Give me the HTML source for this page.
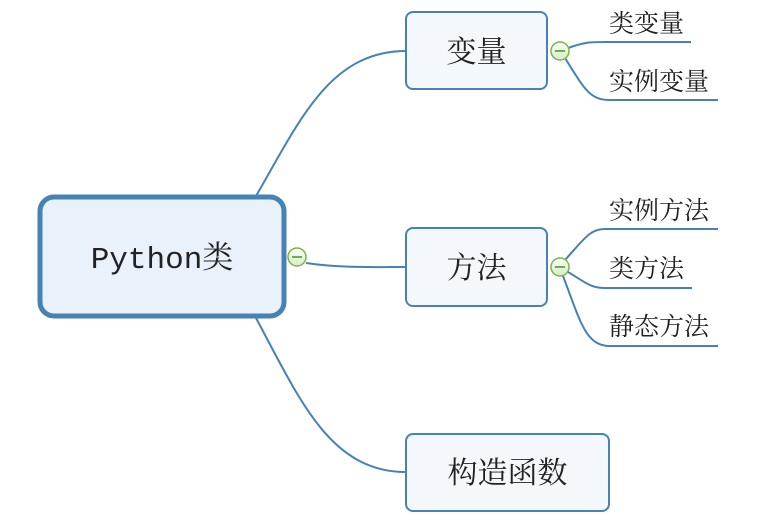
<!DOCTYPE html>
<html><head><meta charset="utf-8"><style>
html,body{margin:0;padding:0;background:#fff;width:761px;height:517px;overflow:hidden}
svg{display:block}
text{font-family:"Liberation Serif","Noto Serif CJK SC",serif;fill:#222}
text.mono{font-family:"Liberation Mono","Noto Serif CJK SC",monospace}
</style></head><body>
<svg width="761" height="517" viewBox="0 0 761 517" xmlns="http://www.w3.org/2000/svg">
<defs>
<linearGradient id="g" x1="0" y1="0" x2="0" y2="1"><stop offset="0" stop-color="#ffffff"/><stop offset="1" stop-color="#d5ecc4"/></linearGradient>
</defs>
<g fill="none" stroke="#4682b4" stroke-width="2">
<path d="M256,196 C300,120 330,51 406,51"/>
<path d="M306,263 C340,268 370,267 406,267"/>
<path d="M256,318 C300,400 330,472 406,472"/>
<path d="M568,48 C585,42 590,42 605,42 L691,42"/>
<path d="M565,58 C585,90 590,100 610,100 L718,100"/>
<path d="M565,260 C585,238 590,229 605,229 L718,229"/>
<path d="M568,272 C585,282 590,288 605,288 L692,288"/>
<path d="M563,276 C580,320 585,346 610,346 L718,346"/>
</g>
<rect x="40" y="197" width="244" height="119" rx="14" fill="#e9f1fb" stroke="#4682b4" stroke-width="5"/>
<text class="mono" x="162" y="268" font-size="31" text-anchor="middle">Python类</text>
<rect x="406" y="12" width="141" height="77" rx="7" fill="#f4f8fd" stroke="#4682b4" stroke-width="2"/>
<text x="476.5" y="62" font-size="30" text-anchor="middle">变量</text>
<rect x="406" y="228" width="141" height="78" rx="7" fill="#f4f8fd" stroke="#4682b4" stroke-width="2"/>
<text x="476.5" y="278" font-size="30" text-anchor="middle">方法</text>
<rect x="406" y="434" width="203" height="77" rx="7" fill="#f4f8fd" stroke="#4682b4" stroke-width="2"/>
<text x="507.5" y="483" font-size="30" text-anchor="middle">构造函数</text>
<g font-size="25">
<text x="609" y="32">类变量</text>
<text x="609" y="90">实例变量</text>
<text x="609" y="219">实例方法</text>
<text x="609" y="277">类方法</text>
<text x="609" y="335">静态方法</text>
</g>
<g stroke="#7ab648" stroke-width="1.5" fill="url(#g)">
<circle cx="297" cy="257" r="9"/>
<circle cx="560" cy="51" r="9"/>
<circle cx="560" cy="267" r="9"/>
</g>
<g stroke="#3a9a1a" stroke-width="1.5">
<line x1="292" y1="257" x2="302" y2="257"/>
<line x1="555" y1="51" x2="565" y2="51"/>
<line x1="555" y1="267" x2="565" y2="267"/>
</g>
</svg>
</body></html>
